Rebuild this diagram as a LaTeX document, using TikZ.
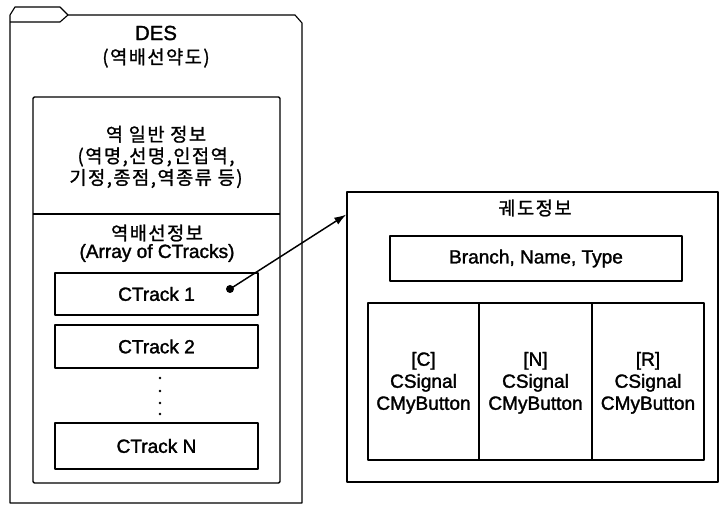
\documentclass[tikz,border=0pt]{standalone}
\usepackage{fontspec}
\setmainfont{Liberation Sans}[UprightFeatures={FakeBold=1.6}]
\newfontfamily\kr{Noto Sans CJK KR}[UprightFeatures={FakeBold=1.2}, LetterSpace=8]
\usetikzlibrary{arrows.meta,fit,calc}

\tikzset{
  frame/.style={draw, line width=1.1pt, inner sep=0pt, fit={#1}},
  thin/.style={line width=0.85pt},
  lbl/.style={inner sep=0pt, align=center, font=\fontsize{14.3}{16.5}\selectfont},
  krlbl/.style={inner sep=0pt, align=center, font=\kr\fontsize{14}{16}\selectfont},
  dotpt/.style={circle, fill, inner sep=0pt, minimum size=2pt},
  link/.style={line width=1.1pt, -{Latex[length=9pt,width=6pt]}}
}

\begin{document}
\begin{tikzpicture}[x=0.75pt, y=-0.75pt, line join=round]
\useasboundingbox (0,0) rectangle (719,505);

% folder outline of the station diagram (DES)
\draw[thin] (10,503) -- (10,15) -- (15,7) -- (60,7) -- (68,15) -- (295,15)
  -- (302,23) -- (302,503) -- cycle;
\draw[thin] (10,22) -- (60,22) -- (68,15);

\node[lbl, font=\fontsize{15.3}{17}\selectfont] (des) at (156,33) {DES};
\node[krlbl] (desk) at (156,58) {(역배선약도)};

% station information block
\node[frame={(33,97) (280,483)}, rounded corners=1pt] (station) {};
\draw[line width=1.1pt] (33,214) -- (280,214);
\node[krlbl, font=\kr\fontsize{14}{16.2}\selectfont] (general) at (156,157)
  {역 일반 정보\\(역명,선명,인접역,\\기정,종점,역종류 등)};
\node[krlbl] (trackinfo) at (157,233) {역배선정보};
\node[lbl] (arr) at (157,253) {(Array of CTracks)};

% track list
\node[frame={(55,273) (258,315)}] (t1) {};
\node[lbl] (t1txt) at (t1) {CTrack 1};
\node[frame={(55,325) (258,368)}] (t2) {};
\node[lbl] (t2txt) at (t2) {CTrack 2};
\node[dotpt] (d1) at (160,378) {};
\node[dotpt] (d2) at (160,391) {};
\node[dotpt] (d3) at (160,403) {};
\node[dotpt] (d4) at (160,414) {};
\node[frame={(55,423) (258,469)}] (tn) {};
\node[lbl] (tntxt) at (tn) {CTrack N};
\node[circle, fill, inner sep=0pt, minimum size=6pt] (bullet) at (230,289) {};

% track details
\node[frame={(347,192) (718,482)}] (track) {};
\node[krlbl] (tracktitle) at (535,208) {궤도정보};
\node[frame={(390,236) (682,281)}] (bnt) {};
\node[lbl] (bnttxt) at (bnt) {Branch, Name, Type};
\node[frame={(368,303) (479,460)}] (pc) {};
\node[frame={(479,303) (592,460)}] (pn) {};
\node[frame={(592,303) (704,460)}] (pr) {};
\node[lbl] (pctxt) at ([yshift=-1pt]pc) {[C]\\CSignal\\CMyButton};
\node[lbl] (pntxt) at ([yshift=-1pt]pn) {[N]\\CSignal\\CMyButton};
\node[lbl] (prtxt) at ([yshift=-1pt]pr) {[R]\\CSignal\\CMyButton};

% reference from the first track to its details
\draw[link] (bullet.center) -- ($(track.north west)!0.08!(track.south west)$);
\end{tikzpicture}
\end{document}
